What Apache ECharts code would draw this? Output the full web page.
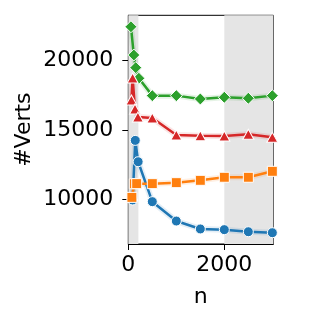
<!DOCTYPE html>
<html><head><meta charset="utf-8">
<script src="https://cdn.jsdelivr.net/npm/echarts@6/dist/echarts.min.js"></script>
<style>html,body{margin:0;padding:0;background:#fff}#c{width:319px;height:319px}</style>
</head><body><div id="c"></div>
<script>
const blueN = [90, 145, 205, 500, 1000, 1500, 2000, 2500, 3000];
const blueV = [9950, 14250, 12710, 9830, 8430, 7860, 7810, 7660, 7590];
const orangeN = [75, 125, 175, 500, 1000, 1500, 2000, 2500, 3000];
const orangeV = [10140, 11120, 11130, 11130, 11200, 11370, 11590, 11590, 12020];
const greenN = [55, 115, 155, 220, 500, 1000, 1500, 2000, 2500, 3000];
const greenV = [22450, 20410, 19500, 18730, 17480, 17480, 17240, 17360, 17290, 17480];
const redN = [65, 90, 140, 200, 500, 1000, 1500, 2000, 2500, 3000];
const redV = [17160, 18750, 16520, 15940, 15870, 14640, 14590, 14570, 14690, 14470];
const xTicks = [0, 2000];
const yTicks = [10000, 15000, 20000];
const shaded = [[0, 210], [2000, 3020]];

const F = 'DejaVu Sans';
const pairs = (n, v) => n.map((x, i) => [x, v[i]]);
function mk(name, n, v, color, symbol, size) {
  return [{
    type: 'line', data: pairs(n, v), symbol: 'none', silent: true,
    lineStyle: {color: color, width: 6, opacity: 0.12}, z: 2
  }, {
    type: 'line', name: name, data: pairs(n, v), symbol: symbol, symbolSize: size,
    showAllSymbol: true,
    lineStyle: {color: color, width: 2.5},
    itemStyle: {color: color, borderColor: '#fff', borderWidth: 1, opacity: 1},
    z: 3
  }];
}
const series = [].concat(
  mk('blue', blueN, blueV, '#1f77b4', 'circle', 10),
  mk('orange', orangeN, orangeV, '#ff7f0e', 'rect', 10),
  mk('green', greenN, greenV, '#2ca02c', 'diamond', [12, 12]),
  mk('red', redN, redV, '#d62728', 'triangle', [11, 10])
);
series.push({
  type: 'line', data: [], silent: true,
  markArea: {silent: true, itemStyle: {color: '#e5e5e5'},
    data: shaded.map(s => [{xAxis: s[0]}, {xAxis: s[1]}])}
});
const fmt = v => String(v);
const chart = echarts.init(document.getElementById('c'), null, {renderer: 'canvas'});
chart.setOption({
  animation: false,
  grid: {left: 128.3, right: 45.7, top: 15.3, bottom: 75, show: true, borderColor: '#000', borderWidth: 1, backgroundColor: 'transparent'},
  xAxis: {
    type: 'value', min: 0, max: 3020,
    name: 'n', nameLocation: 'middle', nameGap: 42,
    nameTextStyle: {fontFamily: F, fontSize: 22, color: '#000'},
    axisLine: {show: true, lineStyle: {color: '#000', width: 1}},
    axisTick: {show: true, length: 6, customValues: xTicks, lineStyle: {color: '#000'}},
    axisLabel: {customValues: xTicks, formatter: fmt, fontFamily: F, fontSize: 22, color: '#000', margin: 10},
    splitLine: {show: false}
  },
  yAxis: {
    type: 'value', min: 6775, max: 23276,
    name: '#Verts', nameLocation: 'middle', nameGap: 93,
    nameTextStyle: {fontFamily: F, fontSize: 22, color: '#000'},
    axisLine: {show: true, lineStyle: {color: '#000', width: 1}},
    axisTick: {show: true, length: 6, customValues: yTicks, lineStyle: {color: '#000'}},
    axisLabel: {customValues: yTicks, formatter: fmt, fontFamily: F, fontSize: 22, color: '#000', margin: 15},
    splitLine: {show: false}
  },
  series: series
});
</script></body></html>
